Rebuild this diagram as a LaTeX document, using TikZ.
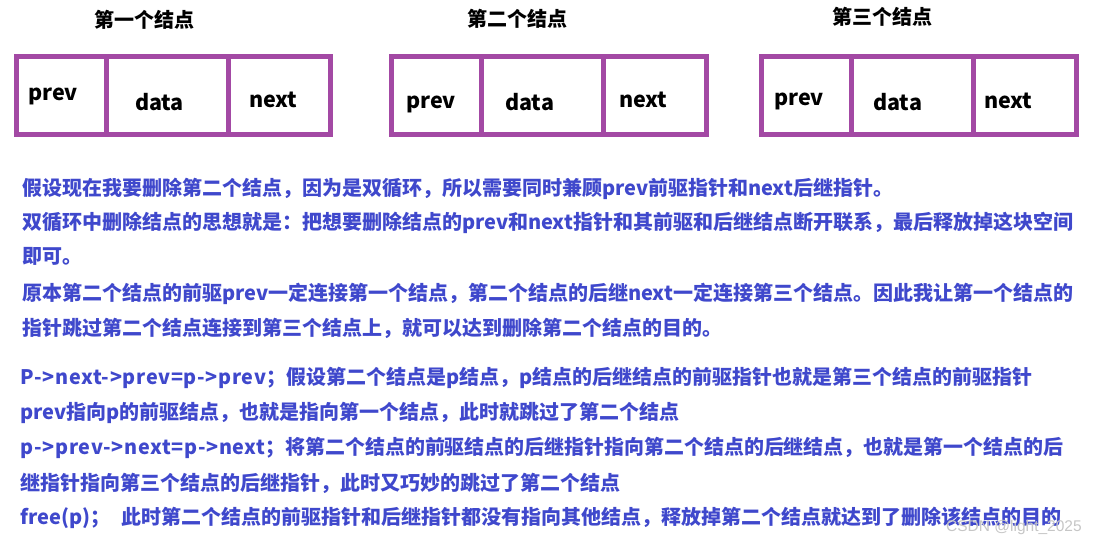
\documentclass[tikz,border=0pt]{standalone}
\usepackage{graphicx}
\usepackage{fontspec}
\setmainfont{Noto Sans CJK SC}
\newfontfamily\wmfont{Liberation Sans}
\definecolor{boxpurple}{RGB}{163,73,164}
\definecolor{txtblue}{RGB}{63,72,204}
\newcommand{\codetxt}[1]{\resizebox{245.5pt}{\height}{\addfontfeature{LetterSpace=3.5}#1}}
\newcommand{\fitline}[2]{\resizebox{#1}{\height}{#2}}
\begin{document}
\begin{tikzpicture}[x=1pt,y=-1pt,
  cell/.style={draw=boxpurple, line width=5pt, inner sep=0pt, minimum height=78pt},
  title/.style={font=\bfseries\fontsize{20}{24}\selectfont, text=black, inner sep=0pt, anchor=base},
  lbl/.style={font=\bfseries\fontsize{21.5}{24}\selectfont, text=black, anchor=base west, inner sep=0pt},
  para/.style={font=\bfseries\fontsize{20}{24}\selectfont, text=txtblue, anchor=base west, inner sep=0pt},
  wm/.style={font=\wmfont\fontsize{15.5}{18}\selectfont, text=gray!45, anchor=base west, inner sep=0pt}]
\useasboundingbox[fill=white] (0,0) rectangle (1098,544);

% titles
\node[title] (t1) at (144,27.6) {第一个结点};
\node[title] (t2) at (517.5,26.6) {第二个结点};
\node[title] (t3) at (882.5,24.6) {第三个结点};

% node 1
\node[cell, minimum width=90pt]  (a1) at (61.5,95.5) {};
\node[cell, minimum width=122pt] (a2) at (167.5,95.5) {};
\node[cell, minimum width=102pt] (a3) at (279.5,95.5) {};
% node 2
\node[cell, minimum width=90pt]  (b1) at (436.5,95.5) {};
\node[cell, minimum width=122pt] (b2) at (542.5,95.5) {};
\node[cell, minimum width=103pt] (b3) at (655,95.5) {};
% node 3
\node[cell, minimum width=90pt]  (c1) at (806.5,95.5) {};
\node[cell, minimum width=122pt] (c2) at (912.5,95.5) {};
\node[cell, minimum width=103pt] (c3) at (1025,95.5) {};

% labels
\node[lbl] (a1l) at (28,100) {prev};
\node[lbl] (a2l) at (135,110) {data};
\node[lbl] (a3l) at (249,107) {next};
\node[lbl] (b1l) at (406,108) {prev};
\node[lbl] (b2l) at (505,110) {data};
\node[lbl] (b3l) at (619,107) {next};
\node[lbl] (c1l) at (774,105) {prev};
\node[lbl] (c2l) at (873,110) {data};
\node[lbl] (c3l) at (984,108) {next};

% paragraph
\node[para] (p1) at (22,195.5) {假设现在我要删除第二个结点，因为是双循环，所以需要同时兼顾prev前驱指针和next后继指针。};
\node[para] (p2) at (22,229) {双循环中删除结点的思想就是：把想要删除结点的prev和next指针和其前驱和后继结点断开联系，最后释放掉这块空间};
\node[para] (p3) at (22,263) {即可。};
\node[para] (p4) at (22,300.5) {原本第二个结点的前驱prev一定连接第一个结点，第二个结点的后继next一定连接第三个结点。因此我让第一个结点的};
\node[para] (p5) at (22,335.5) {指针跳过第二个结点连接到第三个结点上，就可以达到删除第二个结点的目的。};

\node[para] (q1) at (20.5,384) {\codetxt{P->next->prev=p->prev}；假设第二个结点是p结点，p结点的后继结点的前驱指针也就是第三个结点的前驱指针};
\node[para] (q2) at (20.5,419) {prev指向p的前驱结点，也就是指向第一个结点，此时就跳过了第二个结点};
\node[para] (q3) at (20.5,454) {\fitline{1042.5pt}{\codetxt{p->prev->next=p->next}；将第二个结点的前驱结点的后继指针指向第二个结点的后继结点，也就是第一个结点的后}};
\node[para] (q4) at (20,490) {继指针指向第三个结点的后继指针，此时又巧妙的跳过了第二个结点};
\node[para] (q5) at (20,524) {free(p)；\hspace{11pt}此时第二个结点的前驱指针和后继指针都没有指向其他结点，释放掉第二个结点就达到了删除该结点的目的};

% watermark
\node[wm] (w) at (946,531) {CSDN @light\_2025};
\end{tikzpicture}
\end{document}
